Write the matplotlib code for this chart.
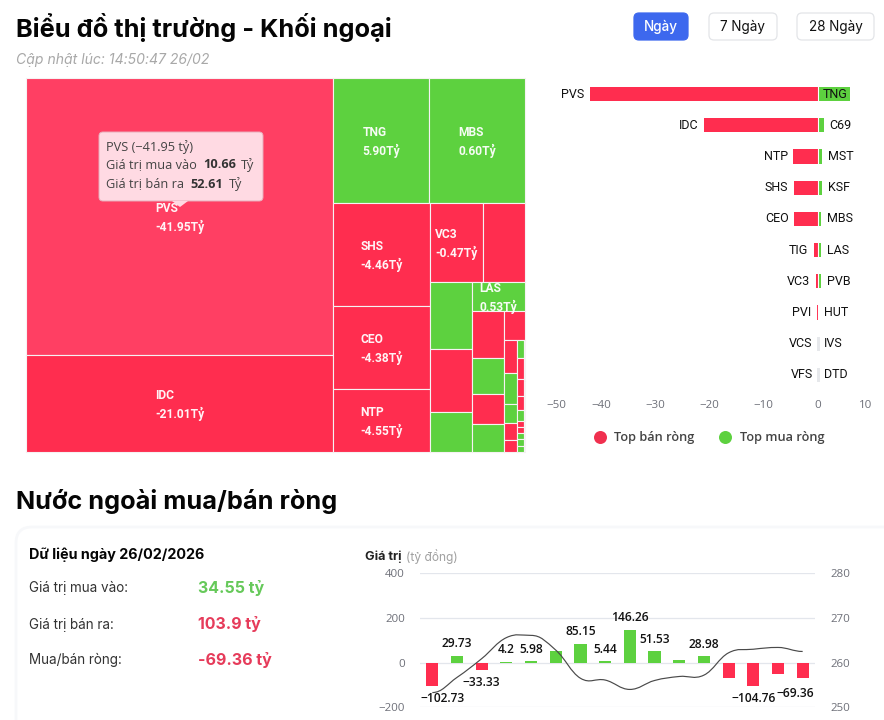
import matplotlib
matplotlib.use("Agg")
import matplotlib.pyplot as plt
from matplotlib.patches import Rectangle, FancyBboxPatch, PathPatch, Polygon
from matplotlib.path import Path
from matplotlib.lines import Line2D

W, H = 884, 720
RED = "#FF2D4F"
RED_HOVER = "#FF3F63"
GREEN = "#5DD13F"
TICK = "#6E7079"
GRID = "#E3E6EC"

# ---------- treemap data (area weights and net values) ----------
tm_names = ["PVS", "IDC", "TNG", "MBS", "SHS", "CEO", "NTP", "VC3", "R1", "G1", "R2", "G2", "LAS",
            "R3", "G3", "R4", "G4", "R5", "R6", "G5", "G6", "R7", "R8",
            "G7", "R9", "R10", "R11", "G8", "R12", "R13", "G9", "G10", "G11", "G12", "R14", "G13"]
tm_weights = [850, 298, 120, 119, 100, 80.5, 61, 41.9, 33.2, 28.1, 26.5, 16.8, 15.4,
              15, 11.5, 9.6, 9, 6.1, 4.3, 4, 2.5, 2.2, 1.6,
              1.26, 1.47, 1.19, 0.98, 0.77, 0.42, 0.42, 0.42, 0.49, 0.42, 0.4, 0.4, 0.3]
tm_net = [-41.95, -21.01, 5.90, 0.60, -4.46, -4.38, -4.55, -0.47, -0.4, 0.3, -0.3, 0.2, 0.53,
          -0.2, 0.2, -0.2, 0.1, -0.1, -0.1, 0.1, 0.1, -0.1, -0.1,
          0.05, -0.05, -0.05, -0.05, 0.05, -0.03, -0.03, 0.03, 0.03, 0.03, 0.02, -0.02, 0.02]
tm_labelled = ["PVS", "IDC", "TNG", "MBS", "SHS", "CEO", "NTP", "VC3", "LAS"]
tm_tree = ("h", [
    ("v", ["PVS", "IDC"]),
    ("v", [
        ("h", ["TNG", "MBS"]),
        ("h", [
            ("v", ["SHS", "CEO", "NTP"]),
            ("v", [
                ("h", ["VC3", "R1"]),
                ("h", [
                    ("v", ["G1", "R2", "G2"]),
                    ("v", ["LAS",
                           ("h", [
                               ("v", ["R3", "G3", "R4", "G4"]),
                               ("v", ["R5",
                                      ("h", [
                                          ("v", ["R6", "G5", "G6", "R7", "R8"]),
                                          ("v", ["G7", "R9", "R10", "R11", "G8", "R12", "R13", "G9", "G10", "G11"]),
                                          ("v", ["G12", "R14", "G13"]),
                                      ])]),
                           ])]),
                ]),
            ]),
        ]),
    ]),
])

# ---------- top net buy / sell ----------
sell_names = ["PVS", "IDC", "NTP", "SHS", "CEO", "TIG", "VC3", "PVI", "VCS", "VFS"]
sell_values = [-41.95, -21.01, -4.55, -4.46, -4.38, -0.85, -0.47, -0.3, 0, 0]
buy_names = ["TNG", "C69", "MST", "KSF", "MBS", "LAS", "PVB", "HUT", "IVS", "DTD"]
buy_values = [5.90, 1.00, 0.72, 0.62, 0.60, 0.53, 0.45, 0, 0, 0]
bar_ticks = [-50, -40, -30, -20, -10, 0, 10]

# ---------- net flow ----------
flow_dates = ["29/01", "30/01", "02/02", "03/02", "04/02", "05/02", "06/02", "09/02",
              "10/02", "11/02", "12/02", "13/02", "23/02", "24/02", "25/02", "26/02"]
flow_values = [-102.73, 29.73, -33.33, 4.2, 5.98, 53, 85.15, 5.44,
               146.26, 51.53, 13, 28.98, -68, -104.76, -50, -69.36]
flow_labels = ["-102.73", "29.73", "-33.33", "4.2", "5.98", "", "85.15", "5.44",
               "146.26", "51.53", "", "28.98", "", "-104.76", "", "-69.36"]
flow_line = [253.3, 256.7, 260.9, 265.6, 266.1, 262.8, 256.5, 256.1,
             254.0, 256.0, 256.9, 257.2, 262.2, 263.0, 263.4, 262.5]
left_ticks = [-200, 0, 200, 400]
right_ticks = [250, 260, 270, 280]


def pt(px):
    return px * 72 / 100


def axes_px(x0, y0, x1, y1, **kw):
    return fig.add_axes([x0 / W, 1 - y1 / H, (x1 - x0) / W, (y1 - y0) / H], **kw)


def weight(node):
    if isinstance(node, str):
        return tm_weights[tm_names.index(node)]
    return sum(weight(c) for c in node[1])


def layout(node, x, y, w, h, out):
    if isinstance(node, str):
        out[node] = (x, y, w, h)
        return
    total = weight(node)
    for child in node[1]:
        share = weight(child) / total
        if node[0] == "h":
            layout(child, x, y, w * share, h, out)
            x += w * share
        else:
            layout(child, x, y, w, h * share, out)
            y += h * share


fig = plt.figure(figsize=(W / 100, H / 100), dpi=100, facecolor="white")

# page background layer
bg = axes_px(0, 0, W, H, zorder=0)
bg.set_xlim(0, W); bg.set_ylim(H, 0); bg.axis("off")
bg.add_patch(FancyBboxPatch((16, 527), 900, 260, boxstyle="round,pad=0,rounding_size=16",
                            fc="white", ec="#F7F8FA", lw=2))

# treemap
tm = axes_px(26, 78, 525, 452, zorder=1)
tm.set_xlim(0, 1); tm.set_ylim(1, 0); tm.axis("off")
cells = {}
layout(tm_tree, 0, 0, 1, 1, cells)
for name, net in zip(tm_names, tm_net):
    x, y, w, h = cells[name]
    color = RED_HOVER if name == "PVS" else (RED if net < 0 else GREEN)
    tm.add_patch(Rectangle((x, y), w, h, fc=color, ec="#F6F2F3", lw=0.8, clip_on=False))
    if name in tm_labelled:
        tm.annotate(f"{name}\n{net:.2f}Tỷ", (x + w / 2, y + h / 2), xytext=(0, -pt(1.5)),
                    textcoords="offset points", color="white", ha="center", va="center",
                    multialignment="left", fontsize=pt(12), family="Roboto", weight="bold", linespacing=1.42,
                    alpha=0.95)

# top buy/sell bars
ba = axes_px(546.5, 78.5, 872.5, 390.5, zorder=1)
ba.patch.set_alpha(0)
pos = list(range(len(sell_names)))
ba.barh(pos, sell_values, height=0.45, color=RED, zorder=2)
ba.barh(pos, buy_values, height=0.45, color=GREEN, zorder=2)
ba.vlines(0, -0.5, 9.5, color="white", lw=0.8, zorder=3)
for i, s in enumerate(sell_values):
    if s == 0:
        ba.barh(i, 0.55, left=-0.275, height=0.45, color="#E6E8EB", zorder=4)
ba.set_xlim(-50, 10); ba.set_ylim(9.5, -0.5)
for i, (sn, sv, bn, bv) in enumerate(zip(sell_names, sell_values, buy_names, buy_values)):
    ba.annotate(sn, (sv, i), xytext=(-pt(5.5), 0), textcoords="offset points", ha="right", va="center",
                fontsize=pt(12.5), family="Roboto", color="#111", zorder=5)
    off = 5 if bn == "TNG" else 6
    ba.annotate(bn, (0 if bn == "TNG" else bv, i), xytext=(pt(off), 0), textcoords="offset points",
                ha="left", va="center", fontsize=pt(12.5), family="Roboto", color="#111", zorder=5)
ba.set_yticks([])
ba.set_xticks(bar_ticks)
ba.set_xticklabels([str(t).replace("-", "\u2212") for t in bar_ticks], family="Open Sans",
                   fontsize=pt(11.5), color=TICK)
labs = ba.get_xticklabels()
labs[0].set_ha("left"); labs[-1].set_ha("right")
ba.tick_params(axis="x", length=0, pad=pt(9))
for s in ba.spines.values():
    s.set_visible(False)
legend_handles = [
    Line2D([], [], ls="", marker="o", ms=pt(13), mfc="#F0304F", mec="none", label="Top bán ròng"),
    Line2D([], [], ls="", marker="o", ms=pt(13), mfc=GREEN, mec="none", label="Top mua ròng"),
]
fig.legend(handles=legend_handles, loc="center", bbox_to_anchor=(709 / W, 1 - 437.5 / H), ncol=2, frameon=False,
           prop={"family": "Open Sans", "size": pt(12.8), "weight": "semibold"}, labelcolor="#444",
           handletextpad=0.6, columnspacing=1.9, handlelength=1.0)

# net flow combo
ax = axes_px(420, 573.3, 815, 707.3, zorder=1)
ax.patch.set_alpha(0)
xs = list(range(len(flow_values)))
ax.bar(xs, flow_values, width=0.49, color=[GREEN if v >= 0 else RED for v in flow_values], zorder=3)
ax.set_xlim(-0.5, 15.5); ax.set_ylim(-200, 400)
ax.set_yticks(left_ticks)
ax.set_yticklabels([str(t).replace("-", "\u2212") for t in left_ticks], family="Open Sans",
                   fontsize=pt(11.5), color=TICK)
ax.tick_params(axis="y", length=0, pad=pt(15))
ax.grid(axis="y", color=GRID, lw=0.9, zorder=0)
ax.set_xticks([])
for s in ax.spines.values():
    s.set_visible(False)
for i, (v, lab) in enumerate(zip(flow_values, flow_labels)):
    if lab:
        dx = -7.7 if i == 15 else (10 if i == 0 else 0)
        dy = -15 if i == 15 else (12 if v >= 0 else -12.5)
        ax.annotate(lab.replace("-", "\u2212"), (i, v), xytext=(pt(dx), pt(dy)), textcoords="offset points",
                    ha="center", va="center", fontsize=pt(12), family="Open Sans", weight="semibold",
                    color="#111", zorder=6)
for i, d in enumerate(flow_dates):
    ax.annotate(d, (i, -200), xytext=(pt(-5), pt(-13)), textcoords="offset points", rotation=-45,
                rotation_mode="anchor", ha="left", va="top", fontsize=pt(11.5), family="Open Sans",
                color="#333", annotation_clip=False)

ax2 = ax.twinx()
ax2.patch.set_alpha(0)
ax2.set_ylim(250, 280)
ax2.set_yticks(right_ticks)
ax2.set_yticklabels([str(t) for t in right_ticks], family="Open Sans", fontsize=pt(11.5), color=TICK)
ax2.tick_params(axis="y", length=0, pad=pt(15))
for s in ax2.spines.values():
    s.set_visible(False)


def slope(i):
    if i == 0 or i == len(flow_line) - 1:
        return 0.0
    a, b = flow_line[i] - flow_line[i - 1], flow_line[i + 1] - flow_line[i]
    if a * b <= 0:
        return 0.0
    return 0.5 * (a + b)


verts = [(xs[0], flow_line[0])]
codes = [Path.MOVETO]
for i in range(len(xs) - 1):
    p1, p2 = flow_line[i], flow_line[i + 1]
    verts += [(xs[i] + 0.4, p1 + slope(i) * 0.4), (xs[i + 1] - 0.4, p2 - slope(i + 1) * 0.4), (xs[i + 1], p2)]
    codes += [Path.CURVE4] * 3
ax2.add_patch(PathPatch(Path(verts, codes), fc="none", ec="#4A4A4A", lw=0.85, zorder=5))

# text and controls layer
pg = axes_px(0, 0, W, H, zorder=10)
pg.set_xlim(0, W); pg.set_ylim(H, 0); pg.axis("off"); pg.patch.set_alpha(0)


def T(x, y, s, size, color="#000", weight="normal", ha="left", family="Inter", **kw):
    return pg.text(x, y, s, fontsize=pt(size), color=color, weight=weight, ha=ha, va="center", family=family, **kw)


T(16, 27, "Biểu đồ thị trường - Khối ngoại", 25.4, "#050505", "bold")
T(16, 60, "Cập nhật lúc: 14:50:47 26/02", 14, "#A8A8A8", style="italic")
T(16, 501, "Nước ngoài mua/bán ròng", 25.3, "#050505", "bold")
T(29, 555, "Dữ liệu ngày 26/02/2026", 14.4, "#050505", "bold")
for y, lab, val, col in [(588, "Giá trị mua vào:", "34.55 tỷ", "#66C95A"),
                         (624.5, "Giá trị bán ra:", "103.9 tỷ", "#E63B5A"),
                         (660, "Mua/bán ròng:", "-69.36 tỷ", "#E63B5A")]:
    T(29, y, lab, 13.5, "#333")
    T(198, y, val, 16, col, "bold")
T(365, 557, "Giá trị", 12.7, "#222", "bold")
T(406, 557, "(tỷ đồng)", 12, "#A0A0A0")

for x0, x1, label, fc, ec, tc, wt in [(634, 688, "Ngày", "#3D68EE", "#3D68EE", "white", "medium"),
                                      (709, 777, "7 Ngày", "white", "#E3E5E8", "#111", "normal"),
                                      (797, 874, "28 Ngày", "white", "#E3E5E8", "#111", "normal")]:
    pg.add_patch(FancyBboxPatch((x0, 13), x1 - x0, 27, boxstyle="round,pad=0,rounding_size=5", fc=fc, ec=ec, lw=0.9))
    T((x0 + x1) / 2, 27, label, 13.5, tc, wt, ha="center")

# tooltip on the hovered PVS cell
pg.add_patch(Polygon([(172, 201), (188, 201), (180, 207)], fc="#FFDAE3", ec="none", zorder=3))
pg.add_patch(FancyBboxPatch((99, 132), 164, 69, boxstyle="round,pad=0,rounding_size=4",
                            fc="#FFDAE3", ec="#E8AEBB", lw=0.7, zorder=2))
T(106, 147, "PVS (\u221241.95 tỷ)", 12.8, "#444", family="Open Sans", zorder=4)
T(106, 165, "Giá trị mua vào", 12.8, "#444", family="Open Sans", zorder=4)
T(203, 165, "10.66", 12.8, "#333", "bold", family="Open Sans", zorder=4)
T(241, 165, "Tỷ", 12.8, "#444", family="Open Sans", zorder=4)
T(106, 184, "Giá trị bán ra", 12.8, "#444", family="Open Sans", zorder=4)
T(190, 184, "52.61", 12.8, "#333", "bold", family="Open Sans", zorder=4)
T(229, 184, "Tỷ", 12.8, "#444", family="Open Sans", zorder=4)

fig.savefig("out.png", dpi=100)
